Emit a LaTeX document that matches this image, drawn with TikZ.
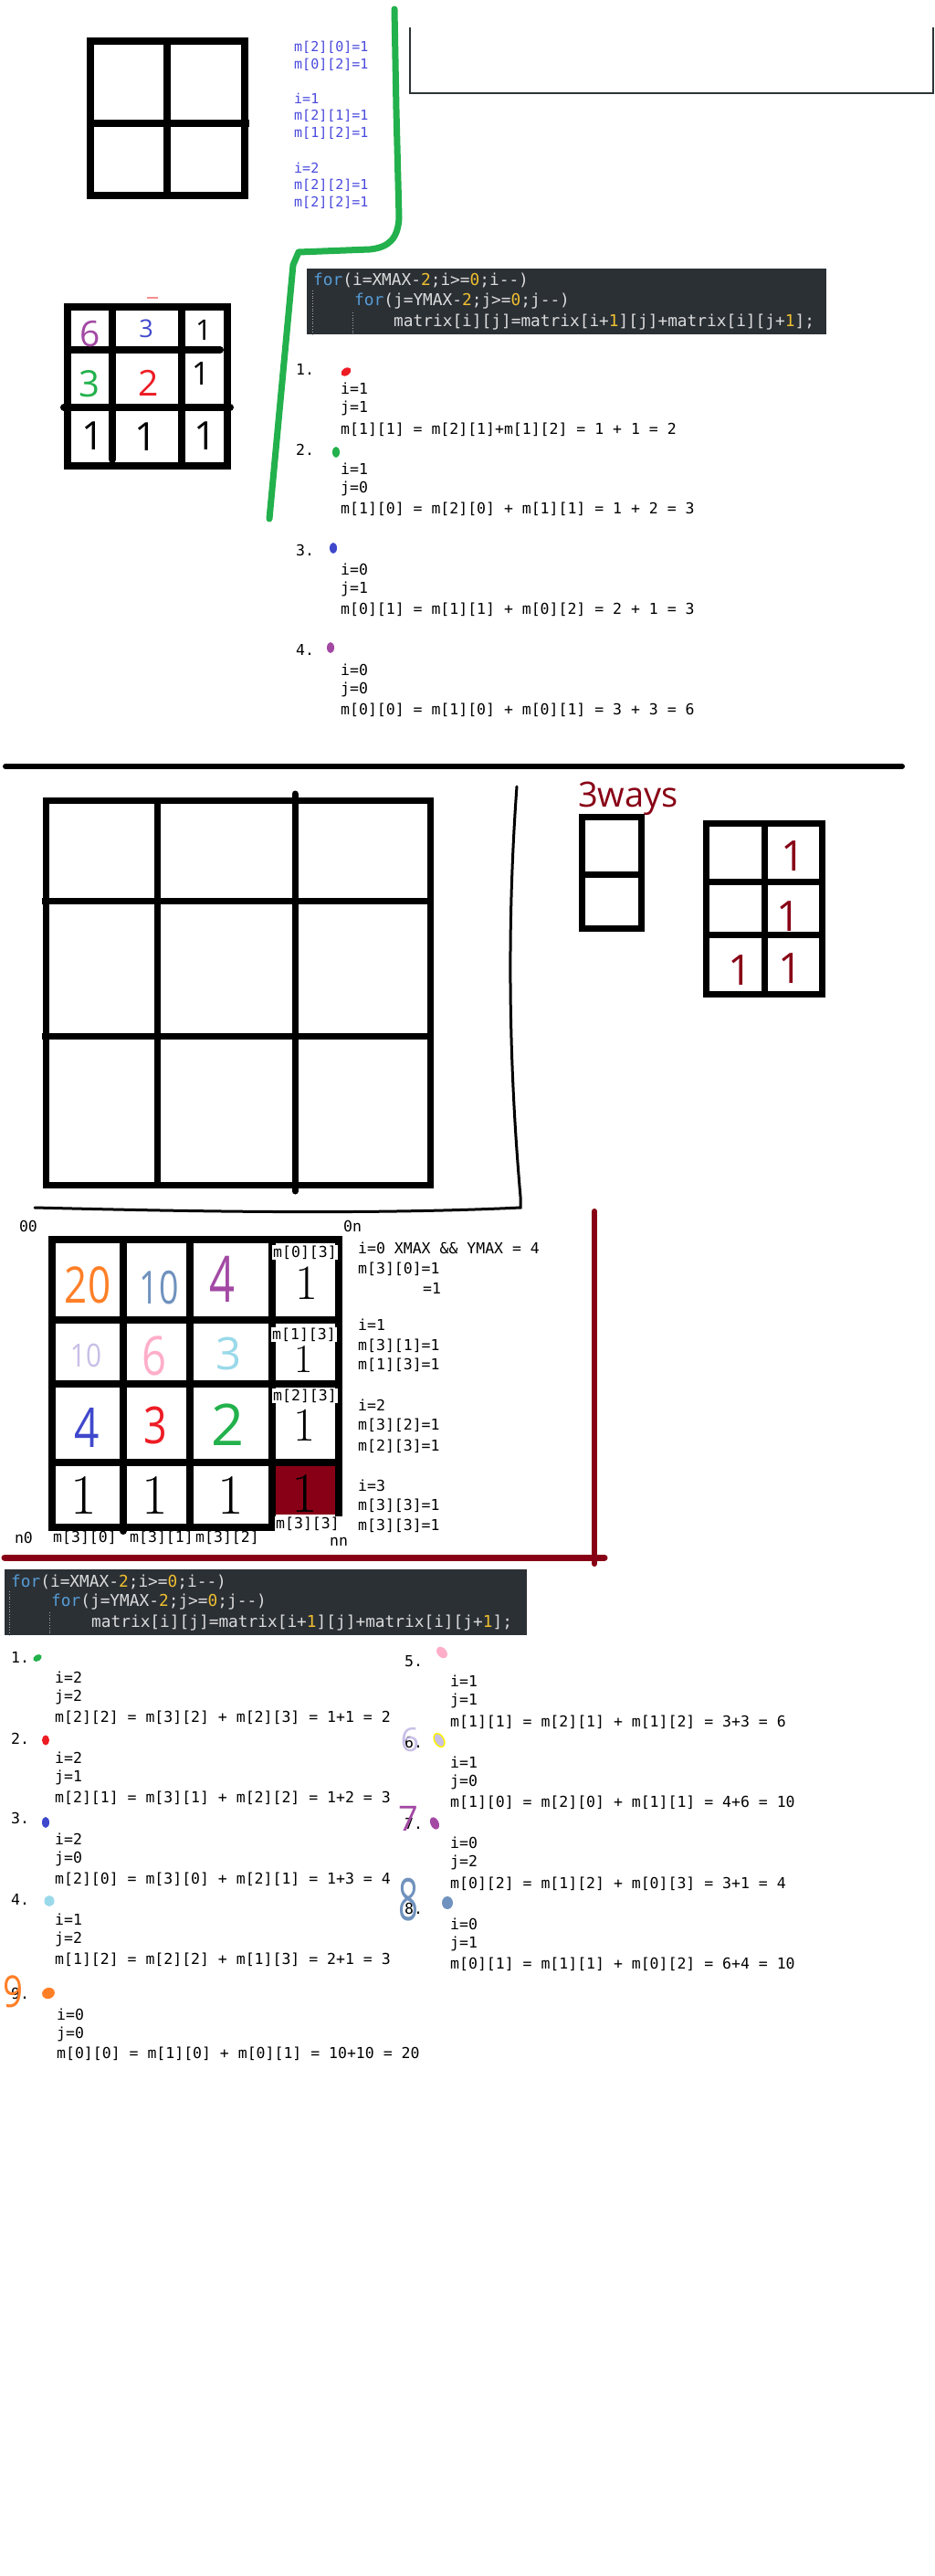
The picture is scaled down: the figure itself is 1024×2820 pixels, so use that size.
\documentclass[tikz,border=0pt]{standalone}
\usepackage{fontspec}
\usepackage{graphicx}
\newfontfamily\monof{DejaVu Sans Mono}[Ligatures=TeXOff]
\newfontfamily\handf{Open Sans}
\definecolor{hgreen}{HTML}{22B14C}
\definecolor{dred}{HTML}{880015}
\definecolor{hred}{HTML}{ED1C24}
\definecolor{hblue}{HTML}{3F48CC}
\definecolor{hpurple}{HTML}{A349A4}
\definecolor{horange}{HTML}{FF7F27}
\definecolor{hsteel}{HTML}{7092BE}
\definecolor{hlav}{HTML}{C8BFE7}
\definecolor{hpink}{HTML}{FFAEC9}
\definecolor{hlblue}{HTML}{99D9EA}
\definecolor{bluetxt}{HTML}{4A4ADE}
\definecolor{codebg}{HTML}{2B3035}
\definecolor{cfor}{HTML}{569CD6}
\definecolor{codetxt}{HTML}{DCDCDC}
\definecolor{cnum}{HTML}{F0C030}
\definecolor{boxgray}{HTML}{2D3436}
\begin{document}
\begin{tikzpicture}[x=1pt,y=-1pt,
  gl/.style={line width=8pt},
  gm/.style={line width=7pt},
  mt/.style={font=\monof\fontsize{16.5}{18}\selectfont, anchor=west, inner sep=0pt},
  bt/.style={font=\monof\fontsize{15}{17}\selectfont, anchor=west, inner sep=0pt, text=bluetxt},
  ct/.style={font=\monof\fontsize{17.8}{20}\selectfont, anchor=west, inner sep=0pt, text=codetxt},
  hd/.style={font=\handf\fontsize{#1}{#1}\selectfont, inner sep=0pt},
  lmd/.style={font=\fontsize{#1}{#1}\selectfont, inner sep=0pt},
  guide/.style={gray!70, dotted, line width=0.8pt}]
\useasboundingbox[fill=white] (0,0) rectangle (1024,2820);

% ---------------- section 1 ----------------
\draw[gl] (99,45) rectangle (268,214);
\draw[gl] (183,45) -- (183,214);
\draw[gl] (99,135) -- (273,135);
\node[bt] (b1) at (322,52) {m[2][0]=1};
\node[bt] (b2) at (322,71) {m[0][2]=1};
\node[bt] (b3) at (322,108) {i=1};
\node[bt] (b4) at (322,127) {m[2][1]=1};
\node[bt] (b5) at (322,146) {m[1][2]=1};
\node[bt] (b6) at (322,184) {i=2};
\node[bt] (b7) at (322,203) {m[2][2]=1};
\node[bt] (b8) at (322,222) {m[2][2]=1};
\draw[hgreen, line width=7pt, line cap=round, line join=round]
  (432,10) -- (434,120) -- (437,238) .. controls (436,262) and (425,271) .. (405,273)
  -- (327,276) -- (321,290) -- (295,568);
\draw[boxgray, line width=2.5pt] (449,30) -- (449,102) -- (1022,102) -- (1022,30);

% ---------------- section 2 ----------------
\draw[hred!50, line width=1.5pt] (161,326) -- (173,326);
\draw[gl] (74,336) rectangle (249,510);
\draw[gl, line cap=round] (123,336) -- (123,503);
\draw[gl] (199,336) -- (199,510);
\draw[gl, line cap=round] (74,383) -- (241,383);
\draw[gl, line cap=round] (70,446) -- (252,446);
\node[hd=39, text=hpurple] (g1) at (99,366) {6};
\node[hd=27, text=hblue] (g2) at (160,360) {3};
\node[hd=31] (g3) at (223,361) {1};
\node[hd=40, text=hgreen] (g4) at (98,420) {3};
\node[hd=39, text=hred] (g5) at (163,419) {2};
\node[hd=35] (g6) at (220,409) {1};
\node[hd=43] (g7) at (102,477) {1};
\node[hd=43] (g8) at (160,478) {1};
\node[hd=43] (g9) at (225,477) {1};

\fill[codebg] (336,294) rectangle (905,366);
\draw[guide] (342,318) -- (342,366);
\draw[guide] (386,342) -- (386,366);
\node[ct] (c1) at (343,307) {{\color{cfor}for}(i=XMAX-{\color{cnum}2};i>={\color{cnum}0};i--)};
\node[ct] (c2) at (388,330) {{\color{cfor}for}(j=YMAX-{\color{cnum}2};j>={\color{cnum}0};j--)};
\node[ct] (c3) at (431,353) {matrix[i][j]=matrix[i+{\color{cnum}1}][j]+matrix[i][j+{\color{cnum}1}];};

\node[mt] (s1n) at (324,404) {1.};
\fill[hred, rotate around={35:(379,407)}] (379,407) ellipse [x radius=6pt, y radius=4pt];
\node[mt] (s1a) at (373,425) {i=1};
\node[mt] (s1b) at (373,447) {j=1};
\node[mt] (s1c) at (373,470) {m[1][1] = m[2][1]+m[1][2] = 1 + 1 = 2};
\node[mt] (s2n) at (324,492) {2.};
\fill[hgreen] (368,495) ellipse [x radius=4pt, y radius=6pt];
\node[mt] (s2a) at (373,513) {i=1};
\node[mt] (s2b) at (373,535) {j=0};
\node[mt] (s2c) at (373,557) {m[1][0] = m[2][0] + m[1][1] = 1 + 2 = 3};
\node[mt] (s3n) at (324,602) {3.};
\fill[hblue] (365,600) ellipse [x radius=4pt, y radius=6pt];
\node[mt] (s3a) at (373,623) {i=0};
\node[mt] (s3b) at (373,645) {j=1};
\node[mt] (s3c) at (373,667) {m[0][1] = m[1][1] + m[0][2] = 2 + 1 = 3};
\node[mt] (s4n) at (324,711) {4.};
\fill[hpurple] (362,709) ellipse [x radius=4pt, y radius=6pt];
\node[mt] (s4a) at (373,733) {i=0};
\node[mt] (s4b) at (373,755) {j=0};
\node[mt] (s4c) at (373,777) {m[0][0] = m[1][0] + m[0][1] = 3 + 3 = 6};

\draw[line width=6pt, line cap=round] (6,839) -- (988,839);

% ---------------- section 3 ----------------
\draw[gm] (50,876) rectangle (471,1297);
\draw[gm] (172,876) -- (172,1297);
\draw[gm, line cap=round] (323,869) -- (323,1304);
\draw[gm] (46,986) -- (471,986);
\draw[gm] (46,1134) -- (471,1134);
\draw[line width=3pt, line cap=round]
  (566,861) .. controls (556,1000) and (556,1150) .. (570,1310) -- (570,1322)
  .. controls (400,1330) and (200,1326) .. (38,1322);
\node[hd=38, text=dred] (w3) at (688,874) {3ways};
\draw[gm] (637.5,894.5) rectangle (702.5,1016.5);
\draw[gm] (634,957) -- (706,957);
\draw[gm] (773.5,901.5) rectangle (900.5,1088.5);
\draw[gm] (837,898) -- (837,1092);
\draw[gm] (770,965) -- (904,965);
\draw[gm] (770,1023) -- (904,1023);
\node[hd=46, text=dred] (r1) at (869,937) {1};
\node[hd=46, text=dred] (r2) at (864,1003) {1};
\node[hd=46, text=dred] (r3) at (811,1062) {1};
\node[hd=46, text=dred] (r4) at (866,1060) {1};

% ---------------- section 4 ----------------
\node[mt, anchor=center] (l00) at (31,1342) {00};
\node[mt, anchor=center] (l0n) at (386,1342) {0n};
\fill[dred] (300,1603) rectangle (369,1658);
\draw[gl] (53,1357) -- (375,1357);
\draw[gl] (57,1353) -- (57,1676);
\draw[gl] (371,1353) -- (371,1660);
\draw[gl] (53,1672) -- (302,1672);
\draw[gl, line cap=round] (135,1357) -- (135,1676);
\draw[gl] (208,1357) -- (208,1672);
\draw[gl] (298,1357) -- (298,1672);
\draw[gl] (53,1445) -- (375,1445);
\draw[gl] (53,1515) -- (375,1515);
\draw[gl] (53,1601) -- (375,1601);
\node[mt, anchor=center, fill=white, inner sep=1pt] (m03) at (334,1371) {m[0][3]};
\node[mt, anchor=center, fill=white, inner sep=1pt] (m13) at (333,1461) {m[1][3]};
\node[mt, anchor=center, fill=white, inner sep=1pt] (m23) at (334,1528) {m[2][3]};
\node[mt, anchor=center, fill=white, inner sep=1pt] (m33) at (337,1668) {m[3][3]};
\node[hd=55, text=horange] (d1) at (96,1407) {\scalebox{0.8}[1]{20}};
\node[hd=50, text=hsteel] (d2) at (174,1410) {\scalebox{0.75}[1]{10}};
\node[hd=70, text=hpurple] (d3) at (244,1400) {\scalebox{0.7}[1]{4}};
\node[lmd=54] (d4) at (336,1405) {1};
\node[hd=35, text=hlav] (d5) at (94,1484) {\scalebox{0.85}[1]{10}};
\node[hd=59, text=hpink] (d6) at (169,1484) {\scalebox{0.8}[1]{6}};
\node[hd=49, text=hlblue] (d7) at (251,1482) {3};
\node[lmd=44] (d8) at (333,1488) {1};
\node[hd=60, text=hblue] (d9) at (95,1563) {\scalebox{0.8}[1]{4}};
\node[hd=56, text=hred] (d10) at (170,1560) {\scalebox{0.8}[1]{3}};
\node[hd=63, text=hgreen] (d11) at (250,1560) {2};
\node[lmd=52] (d12) at (333,1560) {1};
\node[lmd=62] (d13) at (92,1637) {1};
\node[lmd=62] (d14) at (170,1637) {1};
\node[lmd=62] (d15) at (253,1637) {1};
\node[lmd=62] (d16) at (334,1635) {1};
\node[mt, anchor=center] (ln0) at (26,1683) {n0};
\node[mt, anchor=center] (l30) at (93,1683) {m[3][0]};
\node[mt, anchor=center] (l31) at (177,1683) {m[3][1]};
\node[mt, anchor=center] (l32) at (249,1683) {m[3][2]};
\node[mt, anchor=center] (lnn) at (371,1688) {nn};
\node[mt] (q1) at (392,1366) {i=0 XMAX \&\& YMAX = 4};
\node[mt] (q2) at (392,1389) {m[3][0]=1};
\node[mt] (q3) at (463,1410) {=1};
\node[mt] (q4) at (392,1450) {i=1};
\node[mt] (q5) at (392,1473) {m[3][1]=1};
\node[mt] (q6) at (392,1494) {m[1][3]=1};
\node[mt] (q7) at (392,1538) {i=2};
\node[mt] (q8) at (392,1560) {m[3][2]=1};
\node[mt] (q9) at (392,1583) {m[2][3]=1};
\node[mt] (q10) at (392,1626) {i=3};
\node[mt] (q11) at (392,1648) {m[3][3]=1};
\node[mt] (q12) at (392,1670) {m[3][3]=1};
\draw[dred, line width=6pt, line cap=round] (651,1326) -- (651,1712);
\draw[dred, line width=7pt, line cap=round] (5,1705) -- (662,1705);

% ---------------- section 5 ----------------
\fill[codebg] (5,1718) rectangle (577,1790);
\draw[guide] (10,1742) -- (10,1790);
\draw[guide] (54,1765) -- (54,1790);
\node[ct] (k1) at (12,1732) {{\color{cfor}for}(i=XMAX-{\color{cnum}2};i>={\color{cnum}0};i--)};
\node[ct] (k2) at (56,1754) {{\color{cfor}for}(j=YMAX-{\color{cnum}2};j>={\color{cnum}0};j--)};
\node[ct] (k3) at (100,1777) {matrix[i][j]=matrix[i+{\color{cnum}1}][j]+matrix[i][j+{\color{cnum}1}];};

\node[mt] (p1n) at (12,1814) {1.};
\fill[hgreen, rotate around={30:(41,1815)}] (41,1815) ellipse [x radius=5pt, y radius=3.5pt];
\node[mt] (p1a) at (60,1836) {i=2};
\node[mt] (p1b) at (60,1858) {j=2};
\node[mt] (p1c) at (60,1880) {m[2][2] = m[3][2] + m[2][3] = 1+1 = 2};
\node[mt] (p2n) at (12,1903) {2.};
\fill[hred] (50,1905) ellipse [x radius=4pt, y radius=5.5pt];
\node[mt] (p2a) at (60,1924) {i=2};
\node[mt] (p2b) at (60,1946) {j=1};
\node[mt] (p2c) at (60,1968) {m[2][1] = m[3][1] + m[2][2] = 1+2 = 3};
\node[mt] (p3n) at (12,1990) {3.};
\fill[hblue] (50,1995) ellipse [x radius=4pt, y radius=6pt];
\node[mt] (p3a) at (60,2013) {i=2};
\node[mt] (p3b) at (60,2035) {j=0};
\node[mt] (p3c) at (60,2057) {m[2][0] = m[3][0] + m[2][1] = 1+3 = 4};
\node[mt] (p4n) at (12,2079) {4.};
\fill[hlblue] (54,2081) ellipse [x radius=5.5pt, y radius=6pt];
\node[mt] (p4a) at (60,2101) {i=1};
\node[mt] (p4b) at (60,2123) {j=2};
\node[mt] (p4c) at (60,2145) {m[1][2] = m[2][2] + m[1][3] = 2+1 = 3};
\node[mt] (p9n) at (12,2182) {9.};
\node[hd=48, text=horange] (p9h) at (14,2180) {\scalebox{0.8}[1]{9}};
\fill[horange, rotate around={20:(53,2182)}] (53,2182) ellipse [x radius=7pt, y radius=6pt];
\node[mt] (p9a) at (62,2205) {i=0};
\node[mt] (p9b) at (62,2227) {j=0};
\node[mt] (p9c) at (62,2248) {m[0][0] = m[1][0] + m[0][1] = 10+10 = 20};

\node[mt] (p5n) at (443,1819) {5.};
\fill[hpink, rotate around={-50:(484,1809)}] (484,1809) ellipse [x radius=7pt, y radius=5pt];
\node[mt] (p5a) at (493,1840) {i=1};
\node[mt] (p5b) at (493,1862) {j=1};
\node[mt] (p5c) at (493,1885) {m[1][1] = m[2][1] + m[1][2] = 3+3 = 6};
\node[mt] (p6n) at (443,1907) {6.};
\node[hd=36, text=hlav] (p6h) at (449,1905) {6};
\filldraw[fill=hlav, draw=yellow, line width=1.5pt, rotate around={-60:(481,1905)}] (481,1905) ellipse [x radius=8pt, y radius=5pt];
\node[mt] (p6a) at (493,1929) {i=1};
\node[mt] (p6b) at (493,1951) {j=0};
\node[mt] (p6c) at (493,1973) {m[1][0] = m[2][0] + m[1][1] = 4+6 = 10};
\node[mt] (p7n) at (443,1996) {7.};
\node[hd=38, text=hpurple] (p7h) at (447,1991) {7};
\fill[hpurple, rotate around={-65:(476,1996)}] (476,1996) ellipse [x radius=7pt, y radius=4.5pt];
\node[mt] (p7a) at (493,2017) {i=0};
\node[mt] (p7b) at (493,2039) {j=2};
\node[mt] (p7c) at (493,2062) {m[0][2] = m[1][2] + m[0][3] = 3+1 = 4};
\node[mt] (p8n) at (443,2089) {8.};
\node[hd=64, text=hsteel] (p8h) at (447,2080) {\scalebox{0.6}[1]{8}};
\fill[hsteel] (490,2083) ellipse [x radius=6pt, y radius=7pt];
\node[mt] (p8a) at (493,2106) {i=0};
\node[mt] (p8b) at (493,2128) {j=1};
\node[mt] (p8c) at (493,2150) {m[0][1] = m[1][1] + m[0][2] = 6+4 = 10};
\end{tikzpicture}
\end{document}
